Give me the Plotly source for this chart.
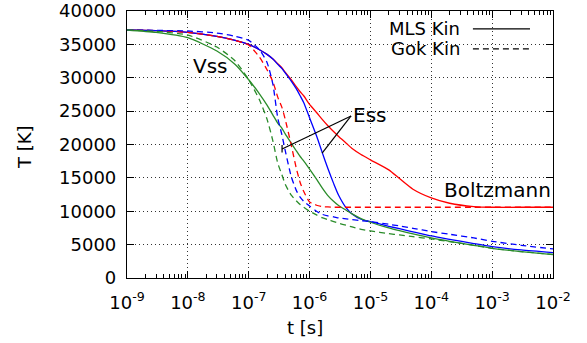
import plotly.graph_objects as go

# time grid [s]
t = [1e-9, 3e-9, 1e-8, 3e-8, 6e-8, 1e-7, 1.5e-7, 2e-7, 2.5e-7, 3e-7, 3.5e-7, 4e-7,
     5e-7, 6e-7, 7e-7, 8e-7, 1e-6, 1.3e-6, 1.6e-6, 2e-6, 2.5e-6, 3e-6, 4e-6, 5e-6,
     7e-6, 1e-5, 2e-5, 3e-5, 5e-5, 1e-4, 2e-4, 5e-4, 1e-3, 3e-3, 1e-2]

# MLS kinetics (solid)
T_boltz_mls = [37150, 37050, 36800, 36200, 35600, 35000, 34200, 33500, 32800, 32100, 31500, 30800,
               29700, 28700, 27900, 27300, 26000, 24800, 23800, 22800, 21900, 21200, 20200, 19400,
               18500, 17700, 16200, 14900, 13300, 12000, 11200, 10700, 10600, 10600, 10600]
T_ess_mls = [37150, 37050, 36800, 36200, 35600, 35000, 34200, 33500, 32800, 32000, 31400, 30700,
             29500, 28400, 27300, 26300, 24000, 21300, 18900, 16400, 14100, 12400, 10500, 9600,
             8800, 8450, 7750, 7380, 6920, 6300, 5800, 5150, 4700, 4200, 3800]
T_vss_mls = [37150, 36800, 36000, 34000, 32000, 29700, 27600, 25900, 24400, 23200, 22450, 21550,
             20200, 19100, 18200, 17550, 16300, 14800, 13550, 12350, 11450, 10850, 10150, 9600,
             8900, 8350, 7500, 7080, 6600, 6000, 5500, 4900, 4450, 3950, 3500]

# Gokcen kinetics (dashed)
T_boltz_gok = [37150, 37050, 36800, 36200, 35600, 34900, 33100, 31200, 29400, 27100, 25600, 23700,
               19900, 16600, 14300, 13000, 11400, 10900, 10700, 10650, 10600, 10600, 10600, 10600,
               10600, 10600, 10600, 10600, 10600, 10600, 10600, 10600, 10600, 10600, 10600]
T_ess_gok = [37150, 37100, 37000, 36700, 36200, 35600, 34200, 32300, 29000, 24000, 21500, 19000,
             15200, 13200, 12100, 11500, 10800, 10000, 9550, 9300, 9150, 9000, 8850, 8750,
             8600, 8450, 8050, 7800, 7450, 6950, 6550, 6000, 5500, 4900, 4350]
T_vss_gok = [37150, 36950, 36400, 34600, 32500, 29700, 26700, 23800, 20500, 17200, 15500, 14000,
             12400, 11600, 11000, 10600, 10000, 9450, 9050, 8750, 8450, 8200, 7900, 7650,
             7300, 7050, 6650, 6450, 6200, 5850, 5450, 4900, 4450, 3950, 3550]

x_ticks = [1e-9, 1e-8, 1e-7, 1e-6, 1e-5, 1e-4, 1e-3, 1e-2]
x_ticktext = ["10<sup>-9</sup>", "10<sup>-8</sup>", "10<sup>-7</sup>", "10<sup>-6</sup>",
              "10<sup>-5</sup>", "10<sup>-4</sup>", "10<sup>-3</sup>", "10<sup>-2</sup>"]
x_minor = [m * d for d in x_ticks[:-1] for m in range(2, 10)]
y_ticks = list(range(0, 40001, 5000))

RED, GREEN, BLUE = "#ff0000", "#2a8c2a", "#0000ff"
FONT = "DejaVu Sans"

fig = go.Figure()
series = [
    (T_boltz_mls, RED, "solid"), (T_ess_mls, BLUE, "solid"), (T_vss_mls, GREEN, "solid"),
    (T_boltz_gok, RED, "6px,4px"), (T_ess_gok, BLUE, "6px,4px"), (T_vss_gok, GREEN, "6px,4px"),
]
for vals, col, dash in series:
    fig.add_trace(go.Scatter(x=t, y=vals, mode="lines", showlegend=False,
                             line=dict(color=col, width=1.3, dash=dash, shape="spline", smoothing=0.6)))

fig.update_layout(
    width=587, height=343,
    margin=dict(l=127, r=34, t=11, b=65, autoexpand=False),
    paper_bgcolor="white", plot_bgcolor="white",
    font=dict(family=FONT, size=18, color="black"),
)
fig.update_xaxes(
    type="log", range=[-9, -2], automargin=False,
    tickvals=x_ticks, ticktext=x_ticktext, tickfont=dict(size=18),
    ticks="inside", ticklen=7, tickcolor="black", tickwidth=1,
    showline=True, linecolor="black", linewidth=1.2, mirror="allticks",
    showgrid=True, gridcolor="#333", griddash="1px,3px", gridwidth=1,
    minor=dict(tickvals=x_minor, ticks="inside", ticklen=4, tickcolor="black", showgrid=False),
    zeroline=False, ticklabelstandoff=8,
)
fig.update_yaxes(
    range=[0, 40000], automargin=False,
    tickvals=y_ticks, ticktext=[str(v) for v in y_ticks], tickfont=dict(size=18),
    ticks="inside", ticklen=7, tickcolor="black", tickwidth=1,
    showline=True, linecolor="black", linewidth=1.2, mirror="allticks",
    showgrid=True, gridcolor="#333", griddash="1px,3px", gridwidth=1,
    zeroline=False, ticklabelstandoff=6,
)

ann = dict(xref="paper", yref="paper", showarrow=False)
f18 = dict(family=FONT, size=18, color="black")
f20 = dict(family=FONT, size=20, color="black")
fig.add_annotation(text="T [K]", x=-0.239, y=0.491, textangle=-90, xanchor="center", yanchor="middle", font=f18, **ann)
fig.add_annotation(text="t [s]", x=0.418, y=-0.187, xanchor="center", yanchor="middle", font=f18, **ann)
fig.add_annotation(text="Vss", x=0.195, y=0.794, xanchor="center", yanchor="middle", font=f20, **ann)
fig.add_annotation(text="Ess", x=0.526, y=0.610, xanchor="left", yanchor="middle", font=f20, **ann)
fig.add_annotation(text="Boltzmann", x=0.870, y=0.330, xanchor="center", yanchor="middle", font=f20, **ann)
fig.add_annotation(text="MLS Kin", x=0.786, y=0.933, xanchor="right", yanchor="middle", font=f18, **ann)
fig.add_annotation(text="Gok Kin", x=0.786, y=0.858, xanchor="right", yanchor="middle", font=f18, **ann)

ln = dict(xref="paper", yref="paper", type="line")
fig.add_shape(x0=0.812, x1=0.946, y0=0.933, y1=0.933, line=dict(color="black", width=1.2), **ln)
fig.add_shape(x0=0.812, x1=0.946, y0=0.858, y1=0.858, line=dict(color="black", width=1.2, dash="6px,4px"), **ln)
fig.add_shape(x0=0.526, y0=0.607, x1=0.364, y1=0.483, line=dict(color="black", width=1.2), **ln)
fig.add_shape(x0=0.526, y0=0.607, x1=0.458, y1=0.468, line=dict(color="black", width=1.2), **ln)
fig.add_shape(x0=0.364, y0=0.498, x1=0.364, y1=0.470, line=dict(color="black", width=1.2), **ln)

fig.write_html("out.html")
